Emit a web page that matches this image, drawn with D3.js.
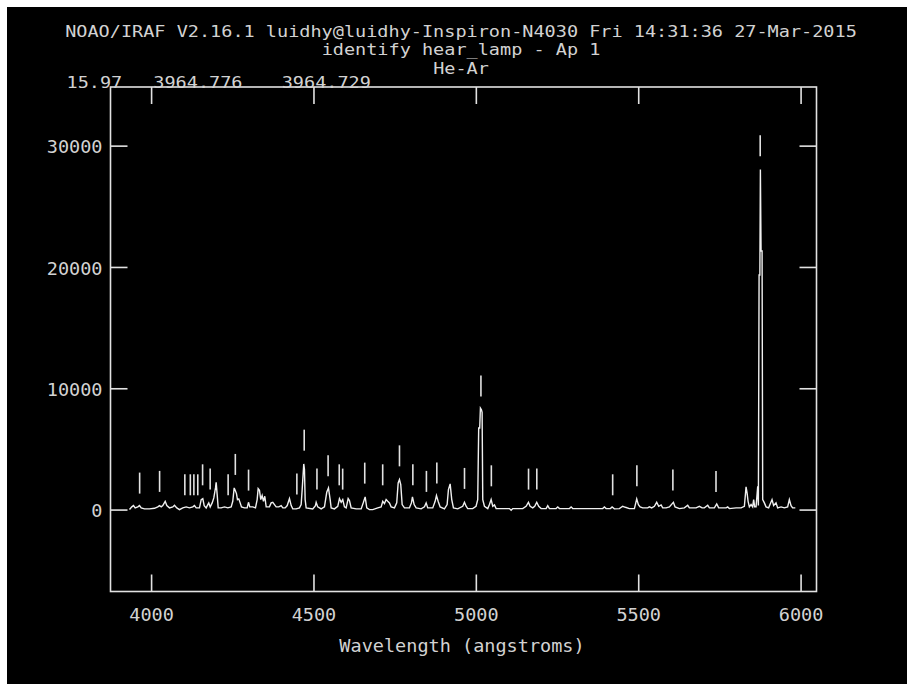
<!DOCTYPE html>
<html>
<head>
<meta charset="utf-8">
<script src="https://cdn.jsdelivr.net/npm/d3@7"></script>
<style>
  html, body { margin: 0; padding: 0; background: #ffffff; }
  svg { display: block; }
  text { font-family: "DejaVu Sans Mono", monospace; }
</style>
</head>
<body>
<script>
// Header lines of the plot
const titleLines = [
  "NOAO/IRAF V2.16.1 luidhy@luidhy-Inspiron-N4030 Fri 14:31:36 27-Mar-2015",
  "identify hear_lamp - Ap 1",
  "He-Ar"
];
// Cursor readout: pixel, fitted wavelength, user wavelength
const readout = ["15.97", "3964.776", "3964.729"];
const xLabel = "Wavelength (angstroms)";

// Axis ranges and ticks
const xDomain = [3875, 6049];
const yDomain = [-6753, 34834];
const xTicks = [4000, 4500, 5000, 5500, 6000];
const yTicks = [0, 10000, 20000, 30000];

// He-Ar lamp spectrum: wavelength (A) and counts
const wave = [
  3933.5,3940.6,3945.8,3951.0,3959.1,3964.3,3969.5,3979.7,3995.1,4010.5,
  4020.6,4025.9,4031.1,4036.0,4043.4,4048.4,4056.7,4066.8,4072.0,4079.1,
  4087.4,4097.6,4108.0,4118.2,4128.4,4133.6,4138.8,4149.0,4154.3,4159.2,
  4163.5,4169.6,4174.6,4177.6,4182.0,4188.1,4193.1,4198.3,4200.4,4203.5,
  4206.6,4215.8,4226.0,4236.2,4246.6,4251.5,4255.8,4258.9,4262.9,4266.0,
  4270.0,4274.3,4278.3,4287.6,4295.9,4299.9,4303.9,4313.1,4321.4,4326.6,
  4329.7,4333.7,4337.7,4342.0,4346.0,4350.1,4354.4,4364.5,4369.7,4374.7,
  4379.9,4385.1,4393.2,4400.6,4405.6,4412.9,4419.2,4426.1,4431.4,4436.3,
  4446.7,4456.9,4462.1,4465.2,4470.1,4472.3,4474.4,4477.5,4497.8,4506.1,
  4508.3,4513.2,4523.7,4533.9,4540.9,4546.2,4551.4,4554.5,4564.6,4574.8,
  4580.0,4585.3,4590.2,4595.4,4600.6,4606.8,4610.8,4616.1,4631.5,4646.9,
  4653.9,4659.2,4664.1,4672.4,4682.6,4698.0,4708.4,4713.4,4718.6,4723.8,
  4728.7,4733.9,4739.2,4749.4,4756.4,4760.8,4764.8,4768.8,4773.1,4780.2,
  4795.6,4801.7,4804.8,4810.0,4816.2,4831.6,4841.8,4847.0,4851.9,4867.3,
  4874.7,4878.7,4883.9,4890.1,4903.3,4911.6,4915.6,4920.9,4925.8,4931.0,
  4944.3,4959.6,4964.9,4970.0,4975.0,4990.4,5000.6,5005.8,5008.8,5011.9,
  5014.1,5017.2,5019.3,5021.3,5026.5,5036.7,5041.9,5047.1,5052.1,5057.4,
  5062.5,5082.9,5103.4,5108.7,5113.6,5144.4,5154.8,5161.9,5167.1,5175.2,
  5181.3,5187.5,5193.6,5201.0,5216.4,5221.4,5226.6,5247.2,5252.2,5257.4,
  5288.2,5293.4,5298.3,5390.7,5395.9,5401.1,5414.4,5419.6,5426.6,5442.1,
  5452.2,5460.6,5472.9,5488.3,5495.4,5500.6,5505.8,5513.9,5529.3,5534.4,
  5541.5,5549.8,5556.9,5563.1,5570.5,5575.4,5585.8,5596.0,5608.3,5613.5,
  5626.8,5642.2,5652.4,5657.6,5678.2,5688.4,5696.7,5703.8,5714.0,5719.2,
  5734.6,5741.7,5747.8,5770.6,5775.5,5780.7,5801.3,5816.7,5826.9,5832.1,
  5835.2,5838.3,5842.3,5847.5,5852.4,5855.5,5858.6,5862.9,5868.0,5870.0,
  5872.2,5874.6,5876.2,5878.3,5881.4,5883.3,5888.5,5893.6,5901.6,5912.1,
  5917.0,5924.4,5929.4,5939.8,5950.0,5960.1,5965.4,5970.6,5975.5,5983.8
];
const counts = [
  0,222,329,140,222,329,140,58,58,107,
  222,329,222,329,683,329,140,222,354,140,
  0,140,222,140,222,329,140,140,823,905,
  329,140,412,551,222,551,963,1786,2247,1235,
  140,140,222,140,222,683,1786,1588,1317,823,
  881,551,222,140,140,601,222,222,140,823,
  1728,1588,823,1152,683,1095,222,222,551,601,
  412,222,222,329,140,140,329,905,329,58,
  58,140,412,1646,3761,3292,823,140,58,329,
  601,222,58,222,1424,1786,823,140,58,272,
  905,601,823,222,140,905,741,140,58,58,
  601,1045,140,0,0,140,222,683,494,823,
  683,551,222,140,551,2197,2469,2058,412,140,
  140,551,1045,412,140,58,222,551,140,140,
  683,1152,683,222,58,412,1646,2115,823,140,
  58,272,601,272,82,82,272,823,6724,6724,
  8370,8230,8008,823,272,82,412,823,272,384,
  82,82,82,-58,82,82,272,601,272,140,
  272,601,272,82,82,329,82,82,222,82,
  82,222,82,82,222,82,82,222,58,82,
  272,189,82,82,881,412,222,140,140,222,
  140,272,601,272,384,140,140,222,601,222,
  82,140,354,140,140,272,140,140,354,140,
  140,469,140,140,222,82,140,140,272,1868,
  1374,683,222,412,222,823,222,222,1918,329,
  19340,19340,28040,21316,21316,823,551,222,140,823,
  329,551,140,222,140,222,823,329,140,140
];

// Identified features: line wavelength and the count level where its mark starts
const featureWave = [
  3964.73,4026.19,4103.91,4120.82,4131.72,4143.76,4158.59,4181.88,4237.22,4259.36,
  4300.10,4448.88,4471.48,4510.73,4545.05,4579.35,4589.90,4657.90,4713.15,4764.86,
  4806.02,4847.81,4879.86,4965.08,5015.68,5047.74,5162.28,5187.75,5421.35,5495.87,
  5606.73,5739.52,5875.62
];
const featureLevel = [
  1317,1457,1177,1177,1177,1177,2000,1646,1177,2856,
  1564,1235,4856,1646,2740,2000,1646,2140,2000,3564,
  2000,1457,2140,1704,9325,1918,1646,1646,1177,1918,
  1564,1457,29134
];

const W = 907, H = 684;
const textColor = "#d2d2d2";
const lineColor = "#e2e2e2";
const charW = 11.15;            // advance of the plotter font
const labelSize = "16.8px";     // axis labels
const headSize = "15.3px";      // header lines
const frame = { left: 110.5, right: 816.5, top: 87, bottom: 591.5 };
const tickLen = 17;
const markLen = 21;

// stretch a text to the fixed-pitch advance of the plotter font
function pitch(sel) {
  sel.each(function () {
    const t = d3.select(this);
    const s = t.text();
    if (s.length) t.attr("textLength", s.length * charW).attr("lengthAdjust", "spacingAndGlyphs");
  });
}

const svg = d3.select("body").append("svg")
  .attr("width", W).attr("height", H);

svg.append("rect")
  .attr("x", 7).attr("y", 7)
  .attr("width", W - 7).attr("height", H - 7)
  .attr("fill", "#000");

const x = d3.scaleLinear().domain(xDomain).range([frame.left, frame.right]);
const y = d3.scaleLinear().domain(yDomain).range([frame.bottom, frame.top]);

// Axes with inward ticks on all four sides
function styleAxis(g) {
  g.select(".domain").remove();
  g.selectAll(".tick line").attr("stroke", lineColor).attr("stroke-width", 1.6);
  g.selectAll(".tick text")
    .attr("fill", textColor)
    .style("font-size", labelSize)
    .style("font-family", "DejaVu Sans Mono, monospace")
    .call(pitch);
}

svg.append("g")
  .attr("transform", `translate(0,${frame.bottom})`)
  .call(d3.axisBottom(x).tickValues(xTicks).tickSize(-tickLen).tickPadding(17.5).tickFormat(d3.format("d")))
  .call(styleAxis);

svg.append("g")
  .attr("transform", `translate(0,${frame.top})`)
  .call(d3.axisTop(x).tickValues(xTicks).tickSize(-tickLen).tickFormat(""))
  .call(styleAxis);

const leftAxis = svg.append("g")
  .attr("transform", `translate(${frame.left},0)`)
  .call(d3.axisLeft(y).tickValues(yTicks).tickSize(-tickLen).tickPadding(8).tickFormat(d3.format("d")))
  .call(styleAxis);
leftAxis.selectAll(".tick text").attr("dy", "0.42em");

svg.append("g")
  .attr("transform", `translate(${frame.right},0)`)
  .call(d3.axisRight(y).tickValues(yTicks).tickSize(-tickLen).tickFormat(""))
  .call(styleAxis);

// Plot frame
svg.append("rect")
  .attr("x", frame.left).attr("y", frame.top)
  .attr("width", frame.right - frame.left)
  .attr("height", frame.bottom - frame.top)
  .attr("fill", "none")
  .attr("stroke", lineColor)
  .attr("stroke-width", 1.6);

// Spectrum trace
const line = d3.line()
  .x((d, i) => x(wave[i]))
  .y((d, i) => y(counts[i]));

svg.append("path")
  .datum(counts)
  .attr("d", line)
  .attr("fill", "none")
  .attr("stroke", "#f0f0f0")
  .attr("stroke-width", 1.4)
  .attr("stroke-linejoin", "miter");

// Feature identification marks
svg.append("g")
  .selectAll("line")
  .data(featureWave)
  .join("line")
  .attr("x1", d => x(d)).attr("x2", d => x(d))
  .attr("y1", (d, i) => y(featureLevel[i]))
  .attr("y2", (d, i) => y(featureLevel[i]) - markLen)
  .attr("stroke", lineColor)
  .attr("stroke-width", 1.6);

// Titles
const titleY = [37.2, 55.4, 73.6];
svg.append("g")
  .selectAll("text")
  .data(titleLines)
  .join("text")
  .attr("x", 461)
  .attr("y", (d, i) => titleY[i])
  .attr("text-anchor", "middle")
  .attr("fill", textColor)
  .style("font-size", headSize)
  .text(d => d)
  .call(pitch);

// Cursor readout above the frame
const readoutX = [66.5, 153.3, 281.7];
svg.append("g")
  .selectAll("text")
  .data(readout)
  .join("text")
  .attr("x", (d, i) => readoutX[i])
  .attr("y", 88)
  .attr("fill", textColor)
  .style("font-size", headSize)
  .text(d => d)
  .call(pitch);

// X axis label
svg.append("text")
  .attr("x", 462)
  .attr("y", 651.8)
  .attr("text-anchor", "middle")
  .attr("fill", textColor)
  .style("font-size", labelSize)
  .text(xLabel)
  .call(pitch);
</script>
</body>
</html>
